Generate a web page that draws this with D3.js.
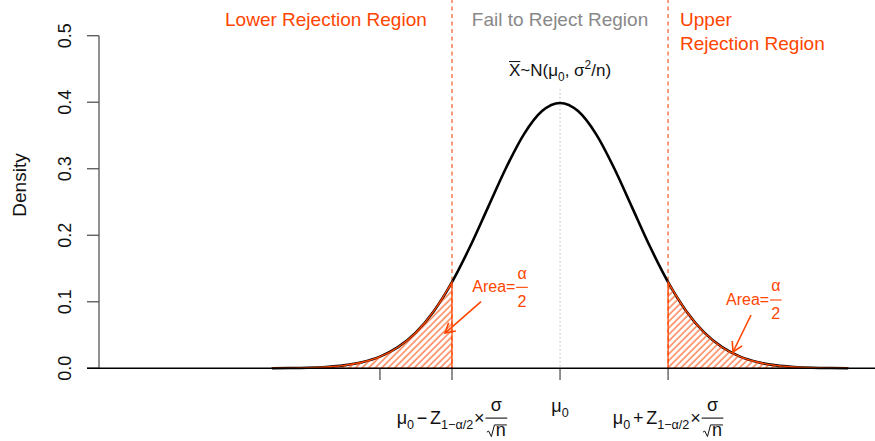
<!DOCTYPE html>
<html><head><meta charset="utf-8">
<script src="https://cdn.jsdelivr.net/npm/d3@7"></script>
<style>body{margin:0;background:#fff}svg text{font-family:"Liberation Sans",Arial,Helvetica,sans-serif}</style>
</head><body>
<svg id="c" width="875" height="441"></svg>
<script>
// ---- data ----
const xValues = [-4,-3.75,-3.5,-3.25,-3,-2.75,-2.5,-2.25,-2,-1.75,-1.5,-1.25,-1,-0.75,-0.5,-0.25,0,
                 0.25,0.5,0.75,1,1.25,1.5,1.75,2,2.25,2.5,2.75,3,3.25,3.5,3.75,4];
const densities = [0.00013,0.00035,0.00087,0.00203,0.00443,0.00909,0.01753,0.03174,0.05399,0.08628,0.12952,0.18265,0.24197,0.30114,0.35207,0.38667,0.39894,
                   0.38667,0.35207,0.30114,0.24197,0.18265,0.12952,0.08628,0.05399,0.03174,0.01753,0.00909,0.00443,0.00203,0.00087,0.00035,0.00013];
const criticalValues = [-1.5, 1.5];
const meanValue = 0;
const yTicks = [0, 0.1, 0.2, 0.3, 0.4, 0.5];
const yTickLabels = ["0.0","0.1","0.2","0.3","0.4","0.5"];
const xTicks = [-2.5, -1.5, 0, 1.5];
const regionTitles = ["Lower Rejection Region", "Fail to Reject Region", "Upper", "Rejection Region"];
const areaLabelPos = [[-0.833, 0.122], [2.69, 0.103]];
const areaArrows = [[-1.097, 0.1001, -1.596, 0.053], [2.651, 0.0801, 2.401, 0.0245]];

// ---- chart ----
const svg = d3.select("#c");
const RED = "#FF4500", DASH = "#F5875F", AX = "#555";
const x = d3.scaleLinear().domain([-6.4, 4.4]).range([99, 877]);
const y = d3.scaleLinear().domain([0, 0.5]).range([368.3, 35.7]);
const pts = xValues.map((v, i) => [v, densities[i]]);

const defs = svg.append("defs");
const pat = defs.append("pattern").attr("id", "hatch").attr("patternUnits", "userSpaceOnUse")
  .attr("width", 4.6).attr("height", 10).attr("patternTransform", "rotate(45)");
pat.append("line").attr("x1", 1).attr("x2", 1).attr("y1", 0).attr("y2", 10).attr("stroke", RED).attr("stroke-width", 1);

// y axis
const yAxis = svg.append("g");
yAxis.append("line").attr("x1", 99).attr("x2", 99).attr("y1", y(0)).attr("y2", y(0.5)).attr("stroke", AX).attr("stroke-width", 1.3);
yTicks.forEach((t, i) => {
  yAxis.append("line").attr("x1", 87).attr("x2", 99).attr("y1", y(t)).attr("y2", y(t)).attr("stroke", AX).attr("stroke-width", 1.3);
  yAxis.append("text").attr("transform", `translate(65,${y(t)}) rotate(-90)`).attr("text-anchor", "middle")
    .attr("dominant-baseline", "central").attr("font-size", 18).attr("fill", "#111").text(yTickLabels[i]);
});
svg.append("text").attr("transform", "translate(19,185) rotate(-90)").attr("text-anchor", "middle")
  .attr("dominant-baseline", "central").attr("font-size", 19).attr("fill", "#111").text("Density");

// x ticks
xTicks.forEach(t => svg.append("line").attr("x1", x(t)).attr("x2", x(t)).attr("y1", y(0)).attr("y2", 380).attr("stroke", AX).attr("stroke-width", 1.3));

// dashed critical lines
criticalValues.forEach(c => svg.append("line").attr("x1", x(c)).attr("x2", x(c)).attr("y1", y(0.555)).attr("y2", y(0))
  .attr("stroke", DASH).attr("stroke-width", 1.6).attr("stroke-dasharray", "4,3.5"));
// center dotted line
svg.append("line").attr("x1", x(meanValue)).attr("x2", x(meanValue)).attr("y1", y(0.42)).attr("y2", y(0))
  .attr("stroke", "#bbb").attr("stroke-width", 1).attr("stroke-dasharray", "1.5,2.5");

// curve
const line = d3.line().x(d => x(d[0])).y(d => y(d[1])).curve(d3.curveMonotoneX);
svg.append("path").datum(pts).attr("d", line).attr("fill", "none").attr("stroke", "#000").attr("stroke-width", 2.6);

// tails
const area = d3.area().x(d => x(d[0])).y0(y(0)).y1(d => y(d[1])).curve(d3.curveMonotoneX);
[pts.filter(d => d[0] <= criticalValues[0]), pts.filter(d => d[0] >= criticalValues[1])].forEach(tail => {
  svg.append("path").datum(tail).attr("d", area).attr("fill", "url(#hatch)").attr("stroke", RED).attr("stroke-width", 1.3);
});

// baseline
svg.append("line").attr("x1", 87).attr("x2", 875).attr("y1", y(0)).attr("y2", y(0)).attr("stroke", "#000").attr("stroke-width", 1.5);

// math label helper
function mathLabel(parts, cx, baseline, size, color, fn, fd) {
  fn = fn || 0.4; fd = fd || 1.0;
  const g = svg.append("g").attr("fill", color);
  let cur = 0;
  parts.forEach(p => {
    if (p.frac) {
      const barY = baseline - size * 0.3;
      const num = g.append("text").attr("font-size", size).text(p.frac[0]);
      const wn = num.node().getComputedTextLength();
      const den = g.append("text").attr("font-size", size).text(p.frac[1]);
      let wd = den.node().getComputedTextLength() + (p.sqrt ? size * 0.5 : 0);
      const w = Math.max(wn, wd) + size * 0.15;
      num.attr("x", cur + (w - wn) / 2).attr("y", barY - size * fn);
      const dBase = barY + size * fd;
      if (p.sqrt) {
        const x0 = cur + (w - wd) / 2;
        const top = dBase - size * 0.62;
        den.attr("x", x0 + size * 0.5).attr("y", dBase);
        g.append("path").attr("d", `M${x0},${dBase - size * 0.22} L${x0 + size * 0.1},${dBase - size * 0.28} L${x0 + size * 0.25},${dBase + 0.5} L${x0 + size * 0.42},${top} L${x0 + wd + 1},${top}`)
          .attr("fill", "none").attr("stroke", color).attr("stroke-width", 1);
      } else {
        den.attr("x", cur + (w - wd) / 2).attr("y", dBase);
      }
      g.append("line").attr("x1", cur).attr("x2", cur + w).attr("y1", barY).attr("y2", barY).attr("stroke", color).attr("stroke-width", 1.1);
      cur += w;
    } else {
      const s = (p.sub || p.sup) ? size * 0.7 : size;
      const dy = p.sub ? size * 0.28 : p.sup ? -size * 0.42 : 0;
      cur += (p.l || 0) * size;
      const t = g.append("text").attr("x", cur).attr("y", baseline + dy).attr("font-size", s).text(p.t);
      const w = t.node().getComputedTextLength();
      if (p.over) {
        g.append("line").attr("x1", cur).attr("x2", cur + w).attr("y1", baseline - size * 0.85).attr("y2", baseline - size * 0.85)
          .attr("stroke", color).attr("stroke-width", 1);
      }
      cur += w + (p.r || 0) * size;
    }
  });
  g.attr("transform", `translate(${cx - cur / 2},0)`);
  return g;
}

// x tick labels
mathLabel([{t:"μ"},{t:"0",sub:true}], x(0), 412, 18, "#111");
mathLabel([{t:"μ"},{t:"0",sub:true},{t:"−",l:0.15,r:0.15},{t:"Z"},{t:"1−α/2",sub:true},{t:"×",l:0.05,r:0.05},{frac:["σ","n"],sqrt:true}], x(criticalValues[0]), 423.5, 18, "#111");
mathLabel([{t:"μ"},{t:"0",sub:true},{t:"+",l:0.15,r:0.15},{t:"Z"},{t:"1−α/2",sub:true},{t:"×",l:0.05,r:0.05},{frac:["σ","n"],sqrt:true}], x(criticalValues[1]), 423.5, 18, "#111");

// distribution label
mathLabel([{t:"X",over:true},{t:"~N("},{t:"μ"},{t:"0",sub:true},{t:", σ"},{t:"2",sup:true},{t:"/n)"}], x(0), 76, 17, "#111");

// region titles
svg.append("text").attr("x", x(-3.25)).attr("y", 26).attr("text-anchor", "middle").attr("font-size", 19).attr("fill", RED).text(regionTitles[0]);
svg.append("text").attr("x", x(0)).attr("y", 26).attr("text-anchor", "middle").attr("font-size", 19).attr("fill", "#888").text(regionTitles[1]);
svg.append("text").attr("x", x(1.666)).attr("y", 26).attr("font-size", 19).attr("fill", RED).text(regionTitles[2]);
svg.append("text").attr("x", x(1.666)).attr("y", 49.5).attr("font-size", 19).attr("fill", RED).text(regionTitles[3]);

// area labels
areaLabelPos.forEach(p => mathLabel([{t:"Area=",r:0.05},{frac:["α","2"]}], x(p[0]), y(p[1]) + 5, 16, RED, 0.55, 1.2));

// arrows
areaArrows.forEach(a => {
  const x1 = x(a[0]), y1 = y(a[1]), x2 = x(a[2]), y2 = y(a[3]);
  const ang = Math.atan2(y2 - y1, x2 - x1), L = 11, h = Math.PI / 6;
  svg.append("line").attr("x1", x1).attr("y1", y1).attr("x2", x2).attr("y2", y2).attr("stroke", RED).attr("stroke-width", 1.6);
  svg.append("path").attr("d", `M${x2 - L * Math.cos(ang - h)},${y2 - L * Math.sin(ang - h)} L${x2},${y2} L${x2 - L * Math.cos(ang + h)},${y2 - L * Math.sin(ang + h)}`)
    .attr("fill", "none").attr("stroke", RED).attr("stroke-width", 1.6);
});
</script>
</body></html>
